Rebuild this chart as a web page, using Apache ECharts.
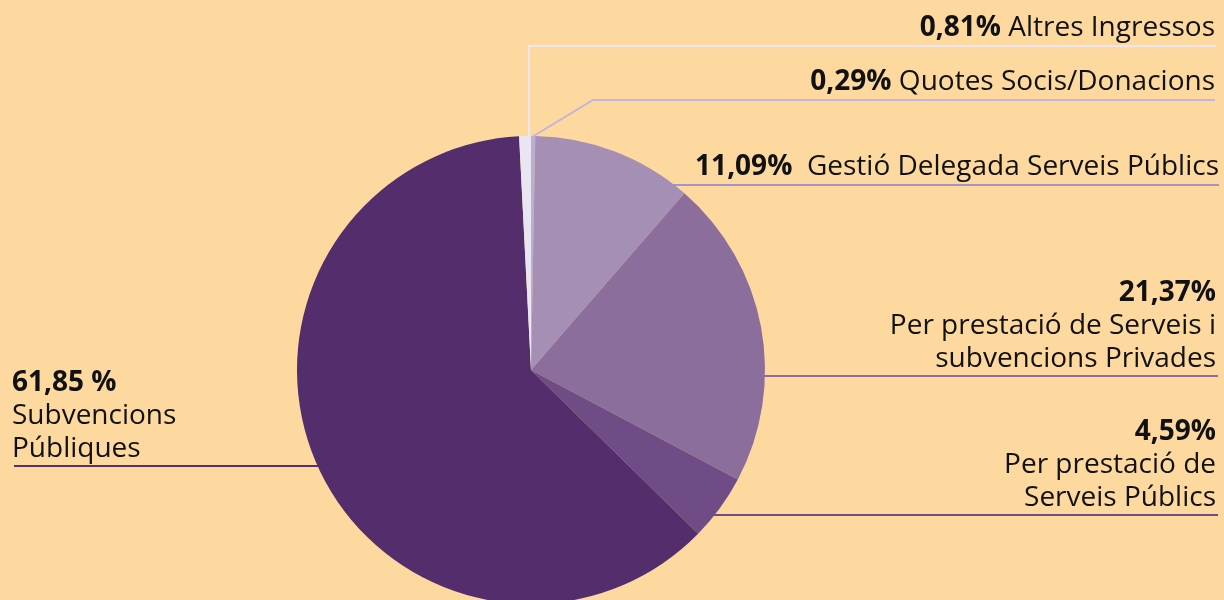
<!DOCTYPE html>
<html lang="ca">
<head>
    <meta charset="UTF-8">
    <title>Ingressos</title>
    <script src="https://cdn.jsdelivr.net/npm/echarts@6/dist/echarts.min.js"></script>
    <style>
        html, body {margin:0; padding:0; background:#fdd9a0;}
        #main {width:1224px; height:600px;}
    </style>
</head>
<body>
<div id="main"></div>
<script type="text/javascript">
    // dades (en sentit horari des de dalt)
    var names = ['Quotes Socis/Donacions', 'Gestió Delegada Serveis Públics',
        'Per prestació de Serveis i\nsubvencions Privades', 'Per prestació de\nServeis Públics',
        'Subvencions\nPúbliques', 'Altres Ingressos'];
    var values = [0.29, 11.09, 21.37, 4.59, 61.85, 0.81];
    var colors = ['#bcaed3', '#a68fb4', '#8b6e9b', '#6f4c85', '#532d6c', '#e9e5f1'];
    var lineColors = ['#c3b4d8', '#a793c4', '#8a6d9e', '#6e4c86', '#552f6e', '#ebe6f2'];

    // posició de les etiquetes i de les línies
    var spots = [
        {x:1215, y:99, align:'right', sep:' ', pts:[[532,137],[593,100],[1215,100]]},
        {x:1219, y:184, align:'right', sep:'  ', pts:[[673,185],[673,185],[1219,185]]},
        {x:1216, y:376, align:'right', sep:'\n', pts:[[763,376],[763,376],[1218,376]]},
        {x:1216, y:515, align:'right', sep:'\n', pts:[[713,515],[713,515],[1218,515]]},
        {x:12, y:466, align:'left', sep:' %\n', pts:[[320,466],[320,466],[14,466]]},
        {x:1215, y:45, align:'right', sep:' ', pts:[[529,137],[529,46],[1216,46]]}
    ];

    function pct(v) {
        return v.toFixed(2).replace('.', ',');
    }

    var data = values.map(function (v, i) {
        return {
            value: v,
            name: names[i],
            itemStyle: {color: colors[i]},
            labelLine: {lineStyle: {color: lineColors[i], width: 2}}
        };
    });

    var myChart = echarts.init(document.getElementById('main'));
    var option = {
        backgroundColor: '#fdd9a0',
        animation: false,
        series: [
            {
                type: 'pie',
                center: [531, 370],
                radius: 234,
                startAngle: 90,
                clockwise: true,
                data: data,
                itemStyle: {borderWidth: 0},
                label: {
                    show: true,
                    position: 'outside',
                    fontFamily: 'Open Sans',
                    fontSize: 28,
                    color: '#111',
                    lineHeight: 33,
                    formatter: function (p) {
                        var s = spots[p.dataIndex];
                        var sep = s.sep;
                        var head = pct(p.value) + (sep.indexOf('%') >= 0 ? ' %' : '%');
                        var gap = sep.indexOf('%') >= 0 ? '\n' : sep;
                        return '{b|' + head + '}' + gap + p.name;
                    },
                    rich: {
                        b: {fontFamily: 'Open Sans', fontSize: 28, fontWeight: 'bold', color: '#111', lineHeight: 33}
                    }
                },
                labelLine: {show: true, length: 10, length2: 10},
                labelLayout: function (p) {
                    var s = spots[p.dataIndex];
                    return {
                        x: s.x,
                        y: s.y,
                        align: s.align,
                        verticalAlign: 'bottom',
                        labelLinePoints: s.pts
                    };
                }
            }
        ]
    };
    myChart.setOption(option);
</script>
</body>
</html>
